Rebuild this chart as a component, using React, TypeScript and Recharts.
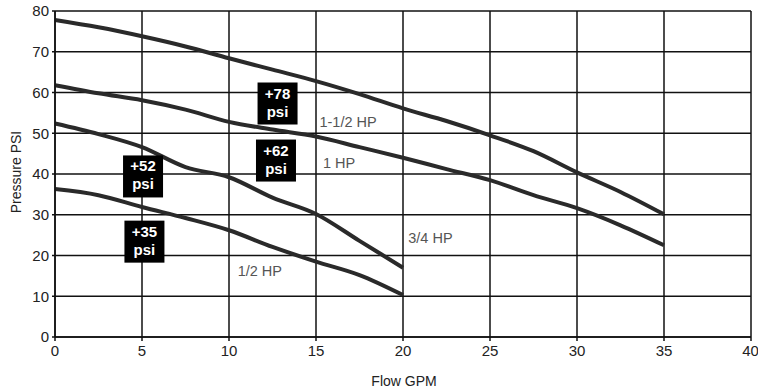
import { LineChart, Line, XAxis, YAxis, CartesianGrid, ReferenceDot } from 'recharts';

const flowTicks = [0, 5, 10, 15, 20, 25, 30, 35, 40];
const psiTicks = [0, 10, 20, 30, 40, 50, 60, 70, 80];

const hp150 = [
  { flow: 0, psi: 77.8 }, { flow: 2.5, psi: 76 }, { flow: 5, psi: 73.8 }, { flow: 7.5, psi: 71.3 },
  { flow: 10, psi: 68.4 }, { flow: 12.5, psi: 65.6 }, { flow: 15, psi: 62.8 }, { flow: 17.5, psi: 59.6 },
  { flow: 20, psi: 56.1 }, { flow: 22.5, psi: 53 }, { flow: 25, psi: 49.5 }, { flow: 27.5, psi: 45.6 },
  { flow: 30, psi: 40.4 }, { flow: 32.5, psi: 35.6 }, { flow: 35, psi: 30.1 },
];
const hp100 = [
  { flow: 0, psi: 61.8 }, { flow: 2.5, psi: 59.8 }, { flow: 5, psi: 58.1 }, { flow: 7.5, psi: 55.8 },
  { flow: 10, psi: 52.8 }, { flow: 12.5, psi: 50.9 }, { flow: 15, psi: 49.2 }, { flow: 17.5, psi: 46.6 },
  { flow: 20, psi: 44 }, { flow: 22.5, psi: 41.2 }, { flow: 25, psi: 38.5 }, { flow: 27.5, psi: 34.8 },
  { flow: 30, psi: 31.6 }, { flow: 32.5, psi: 27.4 }, { flow: 35, psi: 22.5 },
];
const hp075 = [
  { flow: 0, psi: 52.4 }, { flow: 2.5, psi: 49.8 }, { flow: 5, psi: 46.6 }, { flow: 7.5, psi: 41.7 },
  { flow: 10, psi: 39.2 }, { flow: 12.5, psi: 34.2 }, { flow: 15, psi: 30.2 }, { flow: 17.5, psi: 23.6 },
  { flow: 20, psi: 17 },
];
const hp050 = [
  { flow: 0, psi: 36.3 }, { flow: 2.5, psi: 34.8 }, { flow: 5, psi: 31.9 }, { flow: 7.5, psi: 29.2 },
  { flow: 10, psi: 26.2 }, { flow: 12.5, psi: 22.1 }, { flow: 15, psi: 18.5 }, { flow: 17.5, psi: 15.2 },
  { flow: 20, psi: 10.3 },
];

const series = [
  { name: '1-1/2 HP', data: hp150 },
  { name: '1 HP', data: hp100 },
  { name: '3/4 HP', data: hp075 },
  { name: '1/2 HP', data: hp050 },
];

// curve name labels, anchored at their left edge
const curveLabels = [
  { text: '1-1/2 HP', flow: 15.2, psi: 52.8 },
  { text: '1 HP', flow: 15.4, psi: 42.6 },
  { text: '3/4 HP', flow: 20.3, psi: 24.3 },
  { text: '1/2 HP', flow: 10.5, psi: 16.1 },
];

// black boost boxes, anchored at their centre
const boostBoxes = [
  { text: '+78', flow: 12.79, psi: 57.3 },
  { text: '+62', flow: 12.7, psi: 43.3 },
  { text: '+52', flow: 5.06, psi: 39.4 },
  { text: '+35', flow: 5.14, psi: 23.4 },
];

const FONT = '"Liberation Sans", Arial, sans-serif';

export default function App() {
  return (
    <div style={{ position: 'absolute', left: 0, top: 0, background: '#fff', fontFamily: FONT }}>
      <LineChart width={758} height={392} margin={{ top: 11, right: 7, bottom: 0, left: 0 }}>
        <CartesianGrid stroke="#111" strokeWidth={1.5} />
        <XAxis
          type="number"
          dataKey="flow"
          domain={[0, 40]}
          ticks={flowTicks}
          height={55}
          stroke="#111"
          strokeWidth={1.5}
          tickSize={4}
          tickMargin={4}
          tick={{ fill: '#222', fontSize: 15, fontFamily: FONT }}
          label={{
            content: () => (
              <text x={404} y={386} textAnchor="middle" fill="#222" fontSize={14} fontFamily={FONT}>
                Flow GPM
              </text>
            ),
          }}
        />
        <YAxis
          type="number"
          dataKey="psi"
          domain={[0, 80]}
          ticks={psiTicks}
          width={55}
          stroke="#111"
          strokeWidth={1.5}
          tickSize={3}
          tickMargin={3}
          tick={{ fill: '#222', fontSize: 15, fontFamily: FONT }}
          label={{
            content: () => (
              <text
                x={17}
                y={172}
                transform="rotate(-90 17 172)"
                textAnchor="middle"
                dominantBaseline="middle"
                fill="#222"
                fontSize={14}
                fontFamily={FONT}
              >
                Pressure PSI
              </text>
            ),
          }}
        />
        {series.map((s) => (
          <Line
            key={s.name}
            data={s.data}
            dataKey="psi"
            name={s.name}
            type="monotone"
            stroke="#2a2a2a"
            strokeWidth={4}
            dot={false}
            isAnimationActive={false}
          />
        ))}
        {curveLabels.map((l) => (
          <ReferenceDot
            key={l.text}
            x={l.flow}
            y={l.psi}
            r={0}
            shape={(p: any) => (
              <text x={p.cx} y={p.cy} dominantBaseline="central" fill="#555" fontSize={14.5} fontFamily={FONT}>
                {l.text}
              </text>
            )}
          />
        ))}
        {boostBoxes.map((b) => (
          <ReferenceDot
            key={b.text}
            x={b.flow}
            y={b.psi}
            r={0}
            shape={(p: any) => (
              <g>
                <rect x={p.cx - 20} y={p.cy - 21} width={40} height={42} fill="#000" />
                <text x={p.cx} y={p.cy - 5} textAnchor="middle" fill="#fff" fontSize={15} fontWeight="bold" fontFamily={FONT}>
                  {b.text}
                </text>
                <text x={p.cx} y={p.cy + 13} textAnchor="middle" fill="#fff" fontSize={15} fontWeight="bold" fontFamily={FONT}>
                  psi
                </text>
              </g>
            )}
          />
        ))}
      </LineChart>
    </div>
  );
}
